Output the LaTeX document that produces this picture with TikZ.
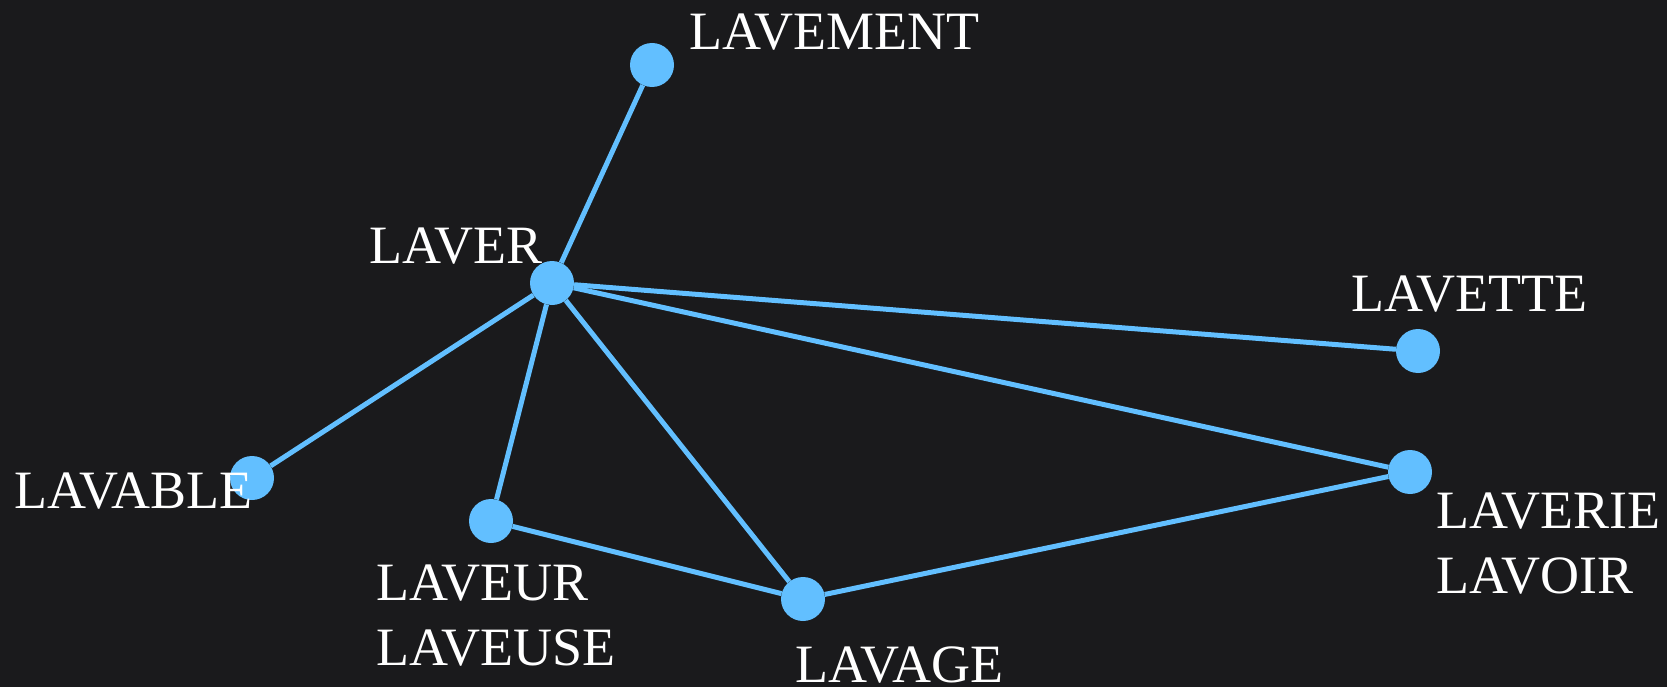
\documentclass[tikz,border=0pt]{standalone}
\usepackage{fontspec}
\setmainfont{Liberation Serif}
\definecolor{bg}{HTML}{1A1A1C}
\definecolor{dotblue}{HTML}{62BFFF}
\begin{document}
\begin{tikzpicture}[x=1pt,y=-1pt,
  dotnode/.style={circle,fill=dotblue,minimum size=44pt,inner sep=0pt},
  link/.style={draw=dotblue,line width=5pt},
  lbl/.style={text=white,inner sep=0pt,anchor=base west,align=left,
    font=\fontsize{54}{65}\selectfont}]
\fill[bg] (0,0) rectangle (1667,687);
\useasboundingbox (0,0) rectangle (1667,687);
% dots
\node[dotnode] (lavement) at (652,65) {};
\node[dotnode] (laver) at (552,283) {};
\node[dotnode] (lavette) at (1418,351) {};
\node[dotnode] (laverie) at (1410,472) {};
\node[dotnode] (lavable) at (252,478) {};
\node[dotnode] (laveur) at (491,521) {};
\node[dotnode] (lavage) at (803,599) {};
% connectors
\draw[link] (laver) -- (lavement);
\draw[link] (laver) -- (lavette);
\draw[link] (laver) -- (laverie);
\draw[link] (laver) -- (lavable);
\draw[link] (laver) -- (laveur);
\draw[link] (laver) -- (lavage);
\draw[link] (laveur) -- (lavage);
\draw[link] (lavage) -- (laverie);
% labels
\node[lbl] (tlavement) at (689,50) {LAVEMENT};
\node[lbl] (tlaver) at (369,263) {LAVER};
\node[lbl] (tlavable) at (14,508) {LAVABLE};
\node[lbl] (tlaveur) at (376,665) {LAVEUR\\LAVEUSE};
\node[lbl] (tlavage) at (795,682) {LAVAGE};
\node[lbl] (tlavette) at (1351,311) {LAVETTE};
\node[lbl] (tlaverie) at (1436,593) {LAVERIE\\LAVOIR};
\end{tikzpicture}
\end{document}
